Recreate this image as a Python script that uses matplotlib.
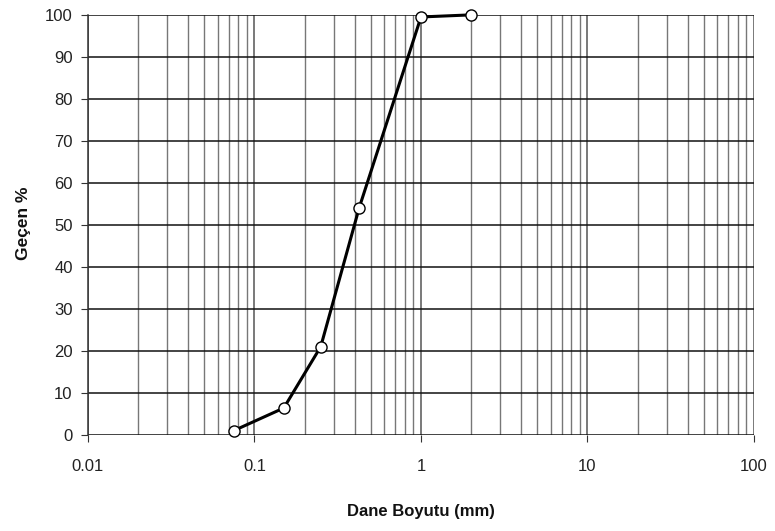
import matplotlib.pyplot as plt
from matplotlib.ticker import LogLocator, NullFormatter, FixedLocator

plt.rcParams['font.family'] = ['Liberation Sans', 'DejaVu Sans']

# Sieve analysis data
grain_size = [0.075, 0.15, 0.25, 0.425, 1.0, 2.0]
passing = [1.0, 6.4, 21.0, 54.0, 99.5, 100.0]

x_ticks = [0.01, 0.1, 1, 10, 100]
x_labels = ['0.01', '0.1', '1', '10', '100']
y_ticks = list(range(0, 101, 10))

fig = plt.figure(figsize=(7.75, 5.31), dpi=100)
ax = fig.add_axes([0.1135, 0.181, 0.8594, 0.791])

ax.set_xscale('log')
ax.set_xlim(0.01, 100)
ax.set_ylim(0, 100)

ax.xaxis.set_major_locator(FixedLocator(x_ticks))
ax.set_xticklabels(x_labels)
ax.xaxis.set_minor_locator(LogLocator(base=10, subs=range(2, 10)))
ax.xaxis.set_minor_formatter(NullFormatter())
ax.set_yticks(y_ticks)

ax.grid(True, which='major', axis='x', color='#555555', lw=1.1)
ax.grid(True, which='minor', axis='x', color='#777777', lw=1.0)
ax.grid(True, which='major', axis='y', color='#111111', lw=1.1)
ax.set_axisbelow(True)

for side in ['top', 'right', 'bottom']:
    ax.spines[side].set_visible(False)
ax.spines['left'].set_color('#333333')
ax.spines['left'].set_linewidth(1.1)

ax.tick_params(axis='x', which='major', length=5, color='#333333', labelsize=12, pad=12,
               labelcolor='#222222')
ax.tick_params(axis='x', which='minor', length=0)
ax.tick_params(axis='y', length=5, color='#333333', labelsize=12, pad=6,
               labelcolor='#222222')

ax.plot(grain_size, passing, color='black', lw=2.2, marker='o', ms=8,
        markerfacecolor='white', markeredgecolor='black', markeredgewidth=1.0,
        clip_on=False, zorder=5)

ax.set_xlabel('Dane Boyutu (mm)', fontsize=12, fontweight='bold', color='#111111')
ax.xaxis.label.set_va('center')
ax.xaxis.set_label_coords(0.5, -0.183)
ax.set_ylabel('Geçen %', fontsize=12.5, fontweight='bold', color='#111111')
ax.yaxis.label.set_va('center')
ax.yaxis.set_label_coords(-0.097, 0.505)

fig.savefig('out.png', dpi=100)
